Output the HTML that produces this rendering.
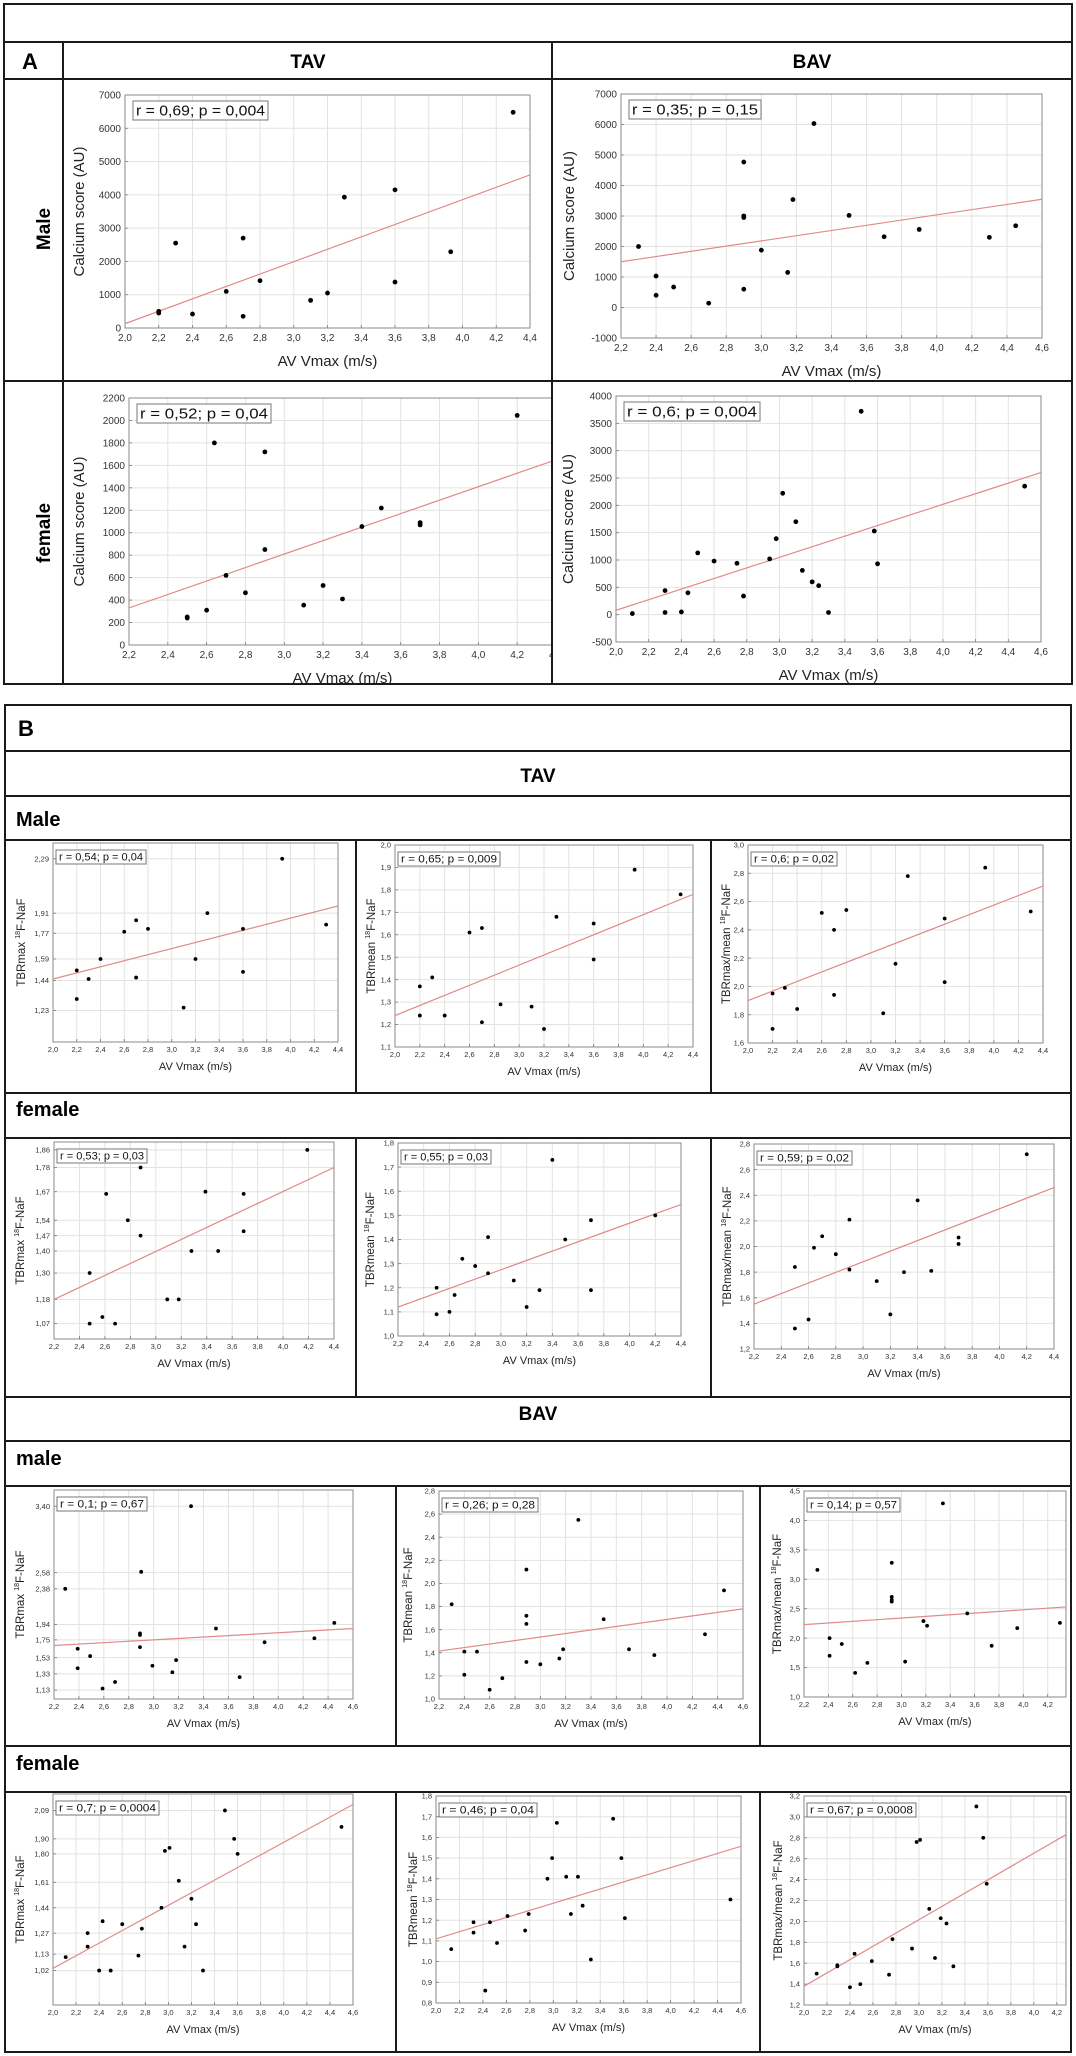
<!DOCTYPE html>
<html><head><meta charset="utf-8"><style>
html,body{margin:0;padding:0;background:#fff;}
svg{display:block;font-family:"Liberation Sans",Arial,sans-serif;}
</style></head><body>
<svg id="fig" width="1076" height="2056" viewBox="0 0 1076 2056" xmlns="http://www.w3.org/2000/svg">
<defs><clipPath id="clipFemTav"><rect x="0" y="381" width="551" height="303"/></clipPath></defs>
<rect x="0" y="0" width="1076" height="2056" fill="#fff"/>
<g stroke="#1a1a1a" stroke-width="2" fill="none">
<rect x="4" y="4" width="1068" height="680"/>
<line x1="4" y1="42" x2="1072" y2="42"/><line x1="4" y1="79" x2="1072" y2="79"/><line x1="4" y1="381" x2="1072" y2="381"/>
<line x1="63" y1="42" x2="63" y2="684"/><line x1="552" y1="42" x2="552" y2="684"/>
</g>
<g stroke="#1a1a1a" stroke-width="2" fill="none">
<rect x="5" y="705" width="1066" height="1347"/>
<line x1="5" y1="751" x2="1071" y2="751"/><line x1="5" y1="796" x2="1071" y2="796"/><line x1="5" y1="840" x2="1071" y2="840"/>
<line x1="5" y1="1093" x2="1071" y2="1093"/><line x1="5" y1="1138" x2="1071" y2="1138"/><line x1="5" y1="1397" x2="1071" y2="1397"/>
<line x1="5" y1="1441" x2="1071" y2="1441"/><line x1="5" y1="1486" x2="1071" y2="1486"/><line x1="5" y1="1746" x2="1071" y2="1746"/><line x1="5" y1="1792" x2="1071" y2="1792"/>
<line x1="356" y1="840" x2="356" y2="1093"/><line x1="711" y1="840" x2="711" y2="1093"/>
<line x1="356" y1="1138" x2="356" y2="1397"/><line x1="711" y1="1138" x2="711" y2="1397"/>
<line x1="396" y1="1486" x2="396" y2="1746"/><line x1="760" y1="1486" x2="760" y2="1746"/>
<line x1="396" y1="1792" x2="396" y2="2052"/><line x1="760" y1="1792" x2="760" y2="2052"/>
</g>
<g font-weight="bold" fill="#000">
<text x="22" y="69" font-size="22">A</text>
<text x="308" y="68" font-size="19" text-anchor="middle">TAV</text>
<text x="812" y="68" font-size="19" text-anchor="middle">BAV</text>
<text transform="translate(50,229) rotate(-90)" font-size="19" text-anchor="middle">Male</text>
<text transform="translate(50,533) rotate(-90)" font-size="19" text-anchor="middle">female</text>
<text x="18" y="736" font-size="22">B</text>
<text x="538" y="782" font-size="19" text-anchor="middle">TAV</text>
<text x="16" y="826" font-size="20">Male</text>
<text x="16" y="1116" font-size="20">female</text>
<text x="538" y="1420" font-size="19" text-anchor="middle">BAV</text>
<text x="16" y="1465" font-size="20">male</text>
<text x="16" y="1770" font-size="20">female</text>
</g>
</svg>
<script>
// ---- tick arrays ----
const xt20_44=[2.0,2.2,2.4,2.6,2.8,3.0,3.2,3.4,3.6,3.8,4.0,4.2,4.4];
const xt22_46=[2.2,2.4,2.6,2.8,3.0,3.2,3.4,3.6,3.8,4.0,4.2,4.4,4.6];
const xt22_44=[2.2,2.4,2.6,2.8,3.0,3.2,3.4,3.6,3.8,4.0,4.2,4.4];
const xt20_46=[2.0,2.2,2.4,2.6,2.8,3.0,3.2,3.4,3.6,3.8,4.0,4.2,4.4,4.6];
const xt22_42=[2.2,2.4,2.6,2.8,3.0,3.2,3.4,3.6,3.8,4.0,4.2];
const xt20_42=[2.0,2.2,2.4,2.6,2.8,3.0,3.2,3.4,3.6,3.8,4.0,4.2];
const ytA1=[0,1000,2000,3000,4000,5000,6000,7000];
const ytA2=[-1000,0,1000,2000,3000,4000,5000,6000,7000];
const ytA3=[0,200,400,600,800,1000,1200,1400,1600,1800,2000,2200];
const ytA4=[-500,0,500,1000,1500,2000,2500,3000,3500,4000];
const ytB1=[1.23,1.44,1.59,1.77,1.91,2.29];
const ytB2=[1.1,1.2,1.3,1.4,1.5,1.6,1.7,1.8,1.9,2.0];
const ytB3=[1.6,1.8,2.0,2.2,2.4,2.6,2.8,3.0];
const ytB4=[1.07,1.18,1.30,1.40,1.47,1.54,1.67,1.78,1.86];
const ytB5=[1.0,1.1,1.2,1.3,1.4,1.5,1.6,1.7,1.8];
const ytB6=[1.2,1.4,1.6,1.8,2.0,2.2,2.4,2.6,2.8];
const ytB7=[1.13,1.33,1.53,1.75,1.94,2.38,2.58,3.40];
const ytB8=[1.0,1.2,1.4,1.6,1.8,2.0,2.2,2.4,2.6,2.8];
const ytB9=[1.0,1.5,2.0,2.5,3.0,3.5,4.0,4.5];
const ytB10=[1.02,1.13,1.27,1.44,1.61,1.80,1.90,2.09];
const ytB11=[0.8,0.9,1.0,1.1,1.2,1.3,1.4,1.5,1.6,1.7,1.8];
const ytB12=[1.2,1.4,1.6,1.8,2.0,2.2,2.4,2.6,2.8,3.0,3.2];
// ---- data ----
const a1X=[2.2,2.2,2.3,2.4,2.6,2.7,2.7,2.8,3.1,3.2,3.3,3.6,3.6,3.93,4.3];
const a1Y=[500,450,2550,420,1100,2700,350,1420,830,1050,3930,4150,1380,2290,6480];
const a1Fit=[130,4600];
const a2X=[2.3,2.4,2.4,2.5,2.7,2.9,2.9,2.9,2.9,3.0,3.15,3.18,3.3,3.5,3.7,3.9,4.3,4.45];
const a2Y=[2000,1030,400,670,140,4770,3000,2950,600,1880,1150,3540,6030,3020,2320,2560,2300,2680];
const a2Fit=[1500,3550];
const a3X=[2.5,2.5,2.6,2.64,2.7,2.8,2.9,2.9,3.1,3.2,3.3,3.4,3.5,3.7,3.7,4.2];
const a3Y=[250,240,310,1800,620,465,1720,850,355,530,410,1055,1220,1090,1070,2045];
const a3Fit=[330,1650];
const a4X=[2.1,2.3,2.3,2.4,2.44,2.5,2.6,2.74,2.78,2.94,2.98,3.02,3.1,3.14,3.2,3.24,3.3,3.5,3.58,3.6,4.5];
const a4Y=[20,440,40,50,400,1130,980,940,340,1020,1390,2220,1700,810,600,530,40,3720,1530,930,2350];
const a4Fit=[80,2600];
const b1X=[2.2,2.2,2.3,2.4,2.6,2.7,2.7,2.8,3.1,3.2,3.3,3.6,3.6,3.93,4.3];
const b1Y=[1.51,1.31,1.45,1.59,1.78,1.86,1.46,1.80,1.25,1.59,1.91,1.80,1.50,2.29,1.83];
const b1Fit=[1.45,1.96];
const b2X=[2.2,2.2,2.3,2.4,2.6,2.7,2.7,2.85,3.1,3.2,3.3,3.6,3.6,3.93,4.3];
const b2Y=[1.37,1.24,1.41,1.24,1.61,1.63,1.21,1.29,1.28,1.18,1.68,1.65,1.49,1.89,1.78];
const b2Fit=[1.24,1.78];
const b3X=[2.2,2.2,2.3,2.4,2.6,2.7,2.7,2.8,3.1,3.2,3.3,3.6,3.6,3.93,4.3];
const b3Y=[1.95,1.70,1.99,1.84,2.52,2.40,1.94,2.54,1.81,2.16,2.78,2.48,2.03,2.84,2.53];
const b3Fit=[1.90,2.71];
const b4X=[2.48,2.48,2.58,2.61,2.68,2.78,2.88,2.88,3.09,3.18,3.28,3.39,3.49,3.69,3.69,4.19];
const b4Y=[1.30,1.07,1.10,1.66,1.07,1.54,1.78,1.47,1.18,1.18,1.40,1.67,1.40,1.66,1.49,1.86];
const b4Fit=[1.18,1.78];
const b5X=[2.5,2.5,2.6,2.64,2.7,2.8,2.9,2.9,3.1,3.2,3.3,3.4,3.5,3.7,3.7,4.2];
const b5Y=[1.20,1.09,1.10,1.17,1.32,1.29,1.41,1.26,1.23,1.12,1.19,1.73,1.40,1.48,1.19,1.50];
const b5Fit=[1.12,1.545];
const b6X=[2.5,2.5,2.6,2.64,2.7,2.8,2.9,2.9,3.1,3.2,3.3,3.4,3.5,3.7,3.7,4.2];
const b6Y=[1.84,1.36,1.43,1.99,2.08,1.94,2.21,1.82,1.73,1.47,1.80,2.36,1.81,2.07,2.02,2.72];
const b6Fit=[1.55,2.46];
const b7X=[2.29,2.90,3.30,2.39,2.39,2.49,2.59,2.69,2.89,2.89,2.89,2.99,3.15,3.18,3.50,3.69,3.89,4.29,4.45];
const b7Y=[2.38,2.59,3.40,1.64,1.40,1.55,1.15,1.23,1.83,1.81,1.66,1.43,1.35,1.50,1.89,1.29,1.72,1.77,1.96];
const b7Fit=[1.68,1.89];
const b8X=[2.30,2.89,3.30,4.45,2.40,2.40,2.50,2.60,2.70,2.89,2.89,2.89,3.0,3.15,3.18,3.50,3.70,3.90,4.30];
const b8Y=[1.82,2.12,2.55,1.94,1.41,1.21,1.41,1.08,1.18,1.72,1.65,1.32,1.30,1.35,1.43,1.69,1.43,1.38,1.56];
const b8Fit=[1.415,1.78];
const b9X=[2.31,2.92,2.92,2.92,2.92,3.34,3.54,2.41,2.41,2.51,2.62,2.72,3.03,3.18,3.21,3.74,3.95,4.3];
const b9Y=[3.16,3.28,2.70,2.65,2.62,4.29,2.42,2.00,1.70,1.90,1.41,1.58,1.60,2.29,2.21,1.87,2.17,2.26];
const b9Fit=[2.23,2.53];
const b10X=[2.11,2.30,2.30,2.40,2.43,2.50,2.60,2.74,2.77,2.94,2.97,3.01,3.09,3.20,3.14,3.24,3.30,3.49,3.57,3.60,4.50];
const b10Y=[1.11,1.27,1.18,1.02,1.35,1.02,1.33,1.12,1.30,1.44,1.82,1.84,1.62,1.50,1.18,1.33,1.02,2.09,1.90,1.80,1.98];
const b10Fit=[1.035,2.13];
const b11X=[2.13,2.32,2.32,2.42,2.46,2.52,2.61,2.76,2.79,2.95,2.99,3.03,3.11,3.15,3.21,3.25,3.32,3.51,3.58,3.61,4.51];
const b11Y=[1.06,1.19,1.14,0.86,1.19,1.09,1.22,1.15,1.23,1.40,1.50,1.67,1.41,1.23,1.41,1.27,1.01,1.69,1.50,1.21,1.30];
const b11Fit=[1.11,1.557];
const b12X=[2.11,2.29,2.29,2.40,2.44,2.49,2.59,2.74,2.77,2.94,2.98,3.01,3.09,3.14,3.19,3.24,3.30,3.50,3.56,3.59];
const b12Y=[1.50,1.58,1.57,1.37,1.69,1.40,1.62,1.49,1.83,1.74,2.76,2.78,2.12,1.65,2.03,1.98,1.57,3.10,2.80,2.36];
const b12Fit=[1.38,2.83];

const NS='http://www.w3.org/2000/svg';
const svg=document.getElementById('fig');
function mk(tag,attrs,parent){const e=document.createElementNS(NS,tag);for(const k in attrs)e.setAttribute(k,attrs[k]);parent.appendChild(e);return e;}
const fmtX=v=>v.toFixed(1).replace('.',',');
let clipId=0;
function plot(c){
  const g=mk('g',{},svg);
  
  
  if(c.clip) g.setAttribute('clip-path','url(#'+c.clip+')');
  const big=c.big;
  const sx=v=>c.l+(v-c.xd[0])/(c.xd[1]-c.xd[0])*(c.r-c.l);
  const sy=v=>c.b-(v-c.yd[0])/(c.yd[1]-c.yd[0])*(c.b-c.t);
  const tf=big?10:7.5;
  c.xt.forEach(v=>{
    const x=sx(v);
    if(v>c.xd[0]+1e-9&&v<c.xd[1]-1e-9){const gl=mk('line',{x1:x,y1:c.t,x2:x,y2:c.b,stroke:'#e2e2e2','stroke-width':1},g);
    
    }
    mk('line',{x1:x,y1:c.b,x2:x,y2:c.b-3,stroke:'#777','stroke-width':0.8},g);
    const t=mk('text',{x:x,y:c.b+(big?13:10),'font-size':tf,'text-anchor':'middle',fill:'#333'},g);
    t.textContent=fmtX(v);
    
    
  });
  c.yt.forEach(v=>{
    const y=sy(v);
    if(v>c.yd[0]+1e-9&&v<c.yd[1]-1e-9){const gl=mk('line',{x1:c.l,y1:y,x2:c.r,y2:y,stroke:'#e2e2e2','stroke-width':1},g);
    
    }
    mk('line',{x1:c.l,y1:y,x2:c.l+3,y2:y,stroke:'#777','stroke-width':0.8},g);
    const t=mk('text',{x:c.l-4,y:y+tf*0.35,'font-size':tf,'text-anchor':'end',fill:'#333'},g);
    t.textContent=big?String(v):v.toFixed(c.yDec).replace('.',',');
    
    
  });
  const fr=mk('rect',{x:c.l,y:c.t,width:c.r-c.l,height:c.b-c.t,fill:'none',stroke:'#8a8a8a','stroke-width':1},g);
  
  
  const id='clip'+(clipId++);
  const cp=mk('clipPath',{id:id},g);
  mk('rect',{x:c.l,y:c.t,width:c.r-c.l,height:c.b-c.t},cp);
  const ln=mk('line',{x1:sx(c.xd[0]),y1:sy(c.fit[0]),x2:sx(c.xd[1]),y2:sy(c.fit[1]),stroke:'#e08a8a','stroke-width':1.2,'clip-path':'url(#'+id+')'},g);
  
  
  c.X.forEach((xv,i)=>{
    const p=mk('circle',{cx:sx(xv),cy:sy(c.Y[i]),r:big?2.4:1.9,fill:'#000'},g);
    
    
  });
  const bh=big?19:14, bx=c.l+(big?8:3), by=c.t+(big?6:7);
  const box=mk('rect',{x:bx,y:by,width:c.bw,height:bh,fill:'#fff',stroke:'#777','stroke-width':1},g);
  
  
  const at=mk('text',{x:bx+3,y:by+bh-(big?4.5:3.5),'font-size':big?15:11,fill:'#111',textLength:c.bw-6,lengthAdjust:'spacingAndGlyphs'},g);
  at.textContent=c.note;
  
  
  const xt=mk('text',{x:(c.l+c.r)/2,y:c.b+(big?38:28),'font-size':big?15:11,'text-anchor':'middle',fill:'#222'},g);
  xt.textContent='AV Vmax (m/s)';
  
  
  const yt=mk('text',{transform:'translate('+(c.l-c.yo)+','+((c.t+c.b)/2)+') rotate(-90)','font-size':big?15:11.5,'text-anchor':'middle',fill:'#222'},g);
  
  
  if(big){yt.textContent='Calcium score (AU)';}
  else{
    const s1=mk('tspan',{},yt);s1.textContent=c.ylab+' ';
    const s2=mk('tspan',{'font-size':7,dy:-5},yt);s2.textContent='18';
    const s3=mk('tspan',{dy:5},yt);s3.textContent='F-NaF';
  }
}
plot({name:'chart-male-tav-calcium',big:true,l:125,r:530,t:95,b:328,xd:[2.0,4.4],yd:[0,7000],xt:xt20_44,yt:ytA1,X:a1X,Y:a1Y,fit:a1Fit,note:'r = 0,69; p = 0,004',bw:135,yo:41});
plot({name:'chart-male-bav-calcium',big:true,l:621,r:1042,t:94,b:338,xd:[2.2,4.6],yd:[-1000,7000],xt:xt22_46,yt:ytA2,X:a2X,Y:a2Y,fit:a2Fit,note:'r = 0,35; p = 0,15',bw:132,yo:47});
plot({name:'chart-female-tav-calcium',big:true,clip:'clipFemTav',l:129,r:556,t:398,b:645,xd:[2.2,4.4],yd:[0,2200],xt:xt22_44,yt:ytA3,X:a3X,Y:a3Y,fit:a3Fit,note:'r = 0,52; p = 0,04',bw:134,yo:45});
plot({name:'chart-female-bav-calcium',big:true,l:616,r:1041,t:396,b:642,xd:[2.0,4.6],yd:[-500,4000],xt:xt20_46,yt:ytA4,X:a4X,Y:a4Y,fit:a4Fit,note:'r = 0,6; p = 0,004',bw:136,yo:43});
plot({name:'chart-male-tav-tbrmax',l:53,r:338,t:843,b:1042,xd:[2.0,4.4],yd:[1.01,2.40],xt:xt20_44,yt:ytB1,yDec:2,X:b1X,Y:b1Y,fit:b1Fit,note:'r = 0,54; p = 0,04',bw:90,ylab:'TBRmax',yo:28});
plot({name:'chart-male-tav-tbrmean',l:395,r:693,t:845,b:1047,xd:[2.0,4.4],yd:[1.1,2.0],xt:xt20_44,yt:ytB2,yDec:1,X:b2X,Y:b2Y,fit:b2Fit,note:'r = 0,65; p = 0,009',bw:102,ylab:'TBRmean',yo:20});
plot({name:'chart-male-tav-tbrmaxmean',l:748,r:1043,t:845,b:1043,xd:[2.0,4.4],yd:[1.6,3.0],xt:xt20_44,yt:ytB3,yDec:1,X:b3X,Y:b3Y,fit:b3Fit,note:'r = 0,6; p = 0,02',bw:86,ylab:'TBRmax/mean',yo:18});
plot({name:'chart-female-tav-tbrmax',l:54,r:334,t:1142,b:1339,xd:[2.2,4.4],yd:[1.0,1.896],xt:xt22_44,yt:ytB4,yDec:2,X:b4X,Y:b4Y,fit:b4Fit,note:'r = 0,53; p = 0,03',bw:90,ylab:'TBRmax',yo:30});
plot({name:'chart-female-tav-tbrmean',l:398,r:681,t:1143,b:1336,xd:[2.2,4.4],yd:[1.0,1.8],xt:xt22_44,yt:ytB5,yDec:1,X:b5X,Y:b5Y,fit:b5Fit,note:'r = 0,55; p = 0,03',bw:90,ylab:'TBRmean',yo:24});
plot({name:'chart-female-tav-tbrmaxmean',l:754,r:1054,t:1144,b:1349,xd:[2.2,4.4],yd:[1.2,2.8],xt:xt22_44,yt:ytB6,yDec:1,X:b6X,Y:b6Y,fit:b6Fit,note:'r = 0,59; p = 0,02',bw:95,ylab:'TBRmax/mean',yo:23});
plot({name:'chart-male-bav-tbrmax',l:54,r:353,t:1490,b:1699,xd:[2.2,4.6],yd:[1.02,3.60],xt:xt22_46,yt:ytB7,yDec:2,X:b7X,Y:b7Y,fit:b7Fit,note:'r = 0,1; p = 0,67',bw:90,ylab:'TBRmax',yo:30});
plot({name:'chart-male-bav-tbrmean',l:439,r:743,t:1491,b:1699,xd:[2.2,4.6],yd:[1.0,2.8],xt:xt22_46,yt:ytB8,yDec:1,X:b8X,Y:b8Y,fit:b8Fit,note:'r = 0,26; p = 0,28',bw:96,ylab:'TBRmean',yo:27});
plot({name:'chart-male-bav-tbrmaxmean',l:804,r:1066,t:1491,b:1697,xd:[2.2,4.35],yd:[1.0,4.5],xt:xt22_42,yt:ytB9,yDec:1,X:b9X,Y:b9Y,fit:b9Fit,note:'r = 0,14; p = 0,57',bw:93,ylab:'TBRmax/mean',yo:23});
plot({name:'chart-female-bav-tbrmax',l:53,r:353,t:1794,b:2005,xd:[2.0,4.6],yd:[0.79,2.20],xt:xt20_46,yt:ytB10,yDec:2,X:b10X,Y:b10Y,fit:b10Fit,note:'r = 0,7; p = 0,0004',bw:103,ylab:'TBRmax',yo:29});
plot({name:'chart-female-bav-tbrmean',l:436,r:741,t:1796,b:2003,xd:[2.0,4.6],yd:[0.8,1.8],xt:xt20_46,yt:ytB11,yDec:1,X:b11X,Y:b11Y,fit:b11Fit,note:'r = 0,46; p = 0,04',bw:98,ylab:'TBRmean',yo:19});
plot({name:'chart-female-bav-tbrmaxmean',l:804,r:1066,t:1796,b:2005,xd:[2.0,4.28],yd:[1.2,3.2],xt:xt20_42,yt:ytB12,yDec:1,X:b12X,Y:b12Y,fit:b12Fit,note:'r = 0,67; p = 0,0008',bw:109,ylab:'TBRmax/mean',yo:22});
const cov=mk('line',{x1:552,y1:381,x2:552,y2:684,stroke:'#1a1a1a','stroke-width':2},svg);


</script>
</body></html>
